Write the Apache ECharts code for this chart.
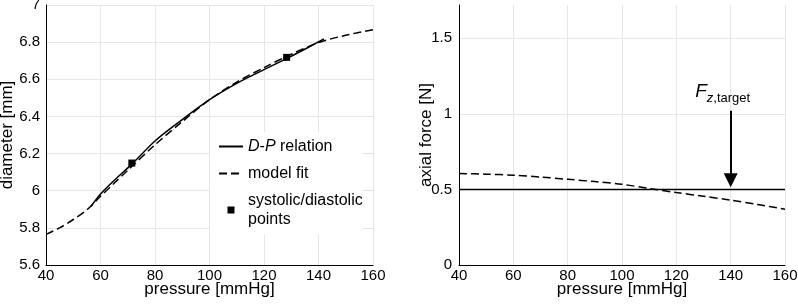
<!DOCTYPE html>
<html>
<head>
<meta charset="utf-8">
<script src="https://cdn.jsdelivr.net/npm/echarts@6/dist/echarts.min.js"></script>
<style>
  html, body { margin: 0; padding: 0; background: #fff; }
  #chart { width: 798px; height: 305px; }
</style>
</head>
<body>
<div id="chart"></div>
<script>
  // left panel: diameter vs pressure
  var dpPressure = [56.5, 60, 65, 72, 80, 90, 100, 110, 120, 129, 136, 142]
  var dpDiameter = [5.915, 5.982, 6.055, 6.15, 6.268, 6.383, 6.49, 6.578, 6.652, 6.717, 6.77, 6.817]
  var fitPressure = [40, 45, 50, 55, 60, 65, 70, 80, 90, 100, 110, 120, 130, 140, 150, 160]
  var fitDiameter = [5.765, 5.8, 5.845, 5.897, 5.97, 6.04, 6.11, 6.247, 6.372, 6.49, 6.585, 6.663, 6.735, 6.798, 6.837, 6.867]
  var sdPressure = [71.5, 128.3]
  var sdDiameter = [6.149, 6.718]

  // right panel: axial force vs pressure
  var targetPressure = [40, 160]
  var targetForce = [0.5, 0.5]
  var forcePressure = [40, 50, 60, 70, 80, 90, 100, 110, 120, 130, 140, 150, 160]
  var forceValues = [0.605, 0.601, 0.594, 0.582, 0.567, 0.552, 0.534, 0.506, 0.479, 0.455, 0.429, 0.4, 0.369]
  var arrowPressure = 140
  var arrowForce = [1.02, 0.56]

  function pairs (xs, ys) {
    var out = []
    for (var i = 0; i < xs.length; i++) {
      out.push([xs[i], ys[i]])
    }
    return out
  }

  var black = '#000'
  var gridColor = '#e6e6e6'
  var font = 'Liberation Sans, Arial, sans-serif'
  // small square in the middle of the legend icon box
  var squareIcon = 'path://M0,0h0.01M24,7h-0.01M8.5,0h7v7h-7Z'

  function xAxisFor (gridIndex) {
    return {
      type: 'value',
      gridIndex: gridIndex,
      min: 40,
      max: 160,
      interval: 20,
      name: 'pressure [mmHg]',
      nameLocation: 'middle',
      nameGap: 16,
      nameMoveOverlap: false,
      nameTextStyle: { fontSize: 17, color: black, fontFamily: font },
      axisLine: { show: true, lineStyle: { color: black, width: 1 } },
      axisTick: { show: false },
      axisLabel: { fontSize: 15, color: black, fontFamily: font, margin: 3 },
      splitLine: { show: true, lineStyle: { color: gridColor, width: 1 } }
    }
  }

  var chart = echarts.init(document.getElementById('chart'))
  var option = {
    animation: false,
    backgroundColor: '#fff',
    textStyle: { fontFamily: font },
    grid: [
      { left: 46, top: 5, width: 327, height: 260, outerBoundsMode: 'none' },
      { left: 459, top: 5, width: 326, height: 260, outerBoundsMode: 'none' }
    ],
    xAxis: [xAxisFor(0), xAxisFor(1)],
    yAxis: [{
      type: 'value',
      gridIndex: 0,
      min: 5.6,
      max: 7,
      interval: 0.2,
      name: 'diameter [mm]',
      nameLocation: 'middle',
      nameGap: 30,
      nameMoveOverlap: false,
      nameTextStyle: { fontSize: 17, color: black, fontFamily: font },
      axisLine: { show: true, lineStyle: { color: black, width: 1 } },
      axisTick: { show: false },
      axisLabel: { fontSize: 15, color: black, fontFamily: font, margin: 6 },
      splitLine: { show: true, lineStyle: { color: gridColor, width: 1 } }
    }, {
      type: 'value',
      gridIndex: 1,
      min: 0,
      max: 1.72,
      interval: 0.5,
      name: 'axial force [N]',
      nameLocation: 'middle',
      nameGap: 24,
      nameMoveOverlap: false,
      nameTextStyle: { fontSize: 17, color: black, fontFamily: font },
      axisLine: { show: true, lineStyle: { color: black, width: 1 } },
      axisTick: { show: false },
      axisLabel: { fontSize: 15, color: black, fontFamily: font, margin: 7, showMaxLabel: false },
      splitLine: { show: true, showMaxLine: false, lineStyle: { color: gridColor, width: 1 } }
    }],
    legend: {
      data: [
        { name: 'D-P relation', itemStyle: { opacity: 0 } },
        { name: 'model fit', itemStyle: { opacity: 0 } },
        { name: 'systolic/diastolic points', icon: squareIcon }
      ],
      orient: 'vertical',
      left: 210,
      top: 132,
      padding: [5, 0, 5, 8],
      itemGap: 8,
      itemWidth: 24,
      itemHeight: 7,
      backgroundColor: '#fff',
      selectedMode: false,
      textStyle: {
        fontSize: 16,
        color: black,
        lineHeight: 19,
        rich: {
          i: { fontSize: 16, fontStyle: 'italic', color: black, lineHeight: 19 },
          n: { fontSize: 16, color: black, lineHeight: 19 }
        }
      },
      formatter: function (name) {
        if (name === 'D-P relation') return '{i|D}{n|-}{i|P}{n| relation}'
        if (name === 'systolic/diastolic points') return 'systolic/diastolic\npoints'
        return name
      }
    },
    series: [{
      name: 'model fit',
      type: 'line',
      xAxisIndex: 0,
      yAxisIndex: 0,
      data: pairs(fitPressure, fitDiameter),
      symbol: 'none',
      smooth: 0.3,
      color: black,
      lineStyle: { color: black, width: 1.5, type: [8, 4] },
      z: 3
    }, {
      name: 'D-P relation',
      type: 'line',
      xAxisIndex: 0,
      yAxisIndex: 0,
      data: pairs(dpPressure, dpDiameter),
      symbol: 'none',
      smooth: 0.3,
      color: black,
      lineStyle: { color: black, width: 1.5 },
      z: 4
    }, {
      name: 'systolic/diastolic points',
      type: 'scatter',
      xAxisIndex: 0,
      yAxisIndex: 0,
      data: pairs(sdPressure, sdDiameter),
      symbol: 'rect',
      symbolSize: 7,
      itemStyle: { color: black, opacity: 1 },
      z: 5
    }, {
      name: 'target axial force',
      type: 'line',
      xAxisIndex: 1,
      yAxisIndex: 1,
      data: pairs(targetPressure, targetForce),
      symbol: 'none',
      color: black,
      lineStyle: { color: black, width: 1.5 },
      markLine: {
        silent: true,
        symbol: ['none', 'triangle'],
        symbolSize: 14,
        lineStyle: { color: black, width: 2, type: 'solid' },
        itemStyle: { color: black },
        label: {
          show: true,
          position: 'start',
          distance: 6,
          padding: [0, 16, 0, 0],
          formatter: '{f|F}{z|z}{s|,target}',
          rich: {
            f: { fontSize: 19, fontStyle: 'italic', color: black, lineHeight: 26 },
            z: { fontSize: 13, fontStyle: 'italic', color: black, lineHeight: 26, verticalAlign: 'bottom' },
            s: { fontSize: 13, color: black, lineHeight: 26, verticalAlign: 'bottom' }
          }
        },
        data: [[
          { coord: [arrowPressure, arrowForce[0]] },
          { coord: [arrowPressure, arrowForce[1]] }
        ]]
      },
      z: 4
    }, {
      name: 'model axial force',
      type: 'line',
      xAxisIndex: 1,
      yAxisIndex: 1,
      data: pairs(forcePressure, forceValues),
      symbol: 'none',
      smooth: 0.3,
      color: black,
      lineStyle: { color: black, width: 1.5, type: [8, 4] },
      z: 3
    }]
  }
  chart.setOption(option)
</script>
</body>
</html>
